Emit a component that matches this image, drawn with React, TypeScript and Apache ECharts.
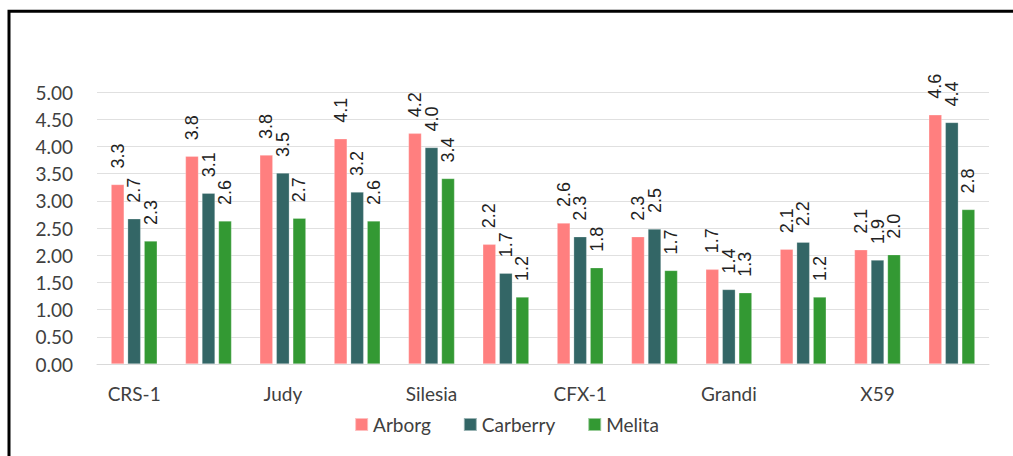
import React, { useEffect, useRef } from "react";
import * as echarts from "echarts";

const categories = ["CRS-1", "Canda", "Judy", "Petera", "Silesia", "Finola", "CFX-1", "CFX-2", "Grandi", "Katani", "X59", "Yvonne"];
const arborg = [3.3, 3.82, 3.84, 4.14, 4.24, 2.2, 2.59, 2.34, 1.74, 2.11, 2.1, 4.58];
const carberry = [2.67, 3.14, 3.51, 3.16, 3.98, 1.67, 2.34, 2.48, 1.37, 2.24, 1.91, 4.44];
const melita = [2.26, 2.63, 2.68, 2.63, 3.41, 1.23, 1.77, 1.72, 1.31, 1.23, 2.01, 2.84];
const seriesNames = ["Arborg", "Carberry", "Melita"];
const colors = ["#FF7F7F", "#336666", "#339933"];

export default function App() {
  const ref = useRef<HTMLDivElement>(null);
  useEffect(() => {
    if (!ref.current) return;
    const chart = echarts.init(ref.current, undefined, { renderer: "svg" });
    const datasets = [arborg, carberry, melita];
    chart.setOption({
      animation: false,
      backgroundColor: "#ffffff",
      textStyle: { fontFamily: "Lato" },
      graphic: [
        {
          type: "rect",
          shape: { x: 9, y: 11.2, width: 1200, height: 700 },
          style: { fill: "none", stroke: "#000", lineWidth: 3 },
          silent: true,
        },
      ],
      grid: { left: 97, right: 24, top: 92, bottom: 92, containLabel: false },
      legend: {
        bottom: 17,
        left: "center",
        itemWidth: 13,
        itemHeight: 13,
        itemGap: 32,
        icon: "rect",
        textStyle: { fontFamily: "Lato", fontSize: 19, color: "#404040" },
        data: seriesNames,
      },
      xAxis: {
        type: "category",
        data: categories,
        axisLine: { show: true, lineStyle: { color: "#d9d9d9", width: 1 } },
        axisTick: { show: false },
        axisLabel: { interval: 1, margin: 20, fontFamily: "Lato", fontSize: 19, color: "#404040" },
      },
      yAxis: {
        type: "value",
        min: 0,
        max: 5,
        interval: 0.5,
        axisLine: { show: false },
        axisTick: { show: false },
        splitLine: { lineStyle: { color: "#e0e0e0", width: 1 } },
        axisLabel: {
          margin: 24,
          fontFamily: "Lato",
          fontSize: 19,
          color: "#404040",
          formatter: (v: number) => v.toFixed(2),
        },
      },
      series: datasets.map((d, i) => ({
        name: seriesNames[i],
        type: "bar",
        data: d,
        barGap: "27%",
        barCategoryGap: "38%",
        itemStyle: { color: colors[i], borderColor: "rgba(255,255,255,0.5)", borderWidth: 0.5 },
        label: {
          show: true,
          position: "top",
          rotate: 90,
          align: "left",
          verticalAlign: "middle",
          distance: 16,
          fontFamily: "Liberation Sans",
          fontSize: 18,
          color: "#222",
          formatter: (p: any) => Number(p.value).toFixed(1),
        },
      })),
    });
    return () => chart.dispose();
  }, []);
  return <div ref={ref} style={{ position: "fixed", left: 0, top: 0, width: 1013, height: 456 }} />;
}
